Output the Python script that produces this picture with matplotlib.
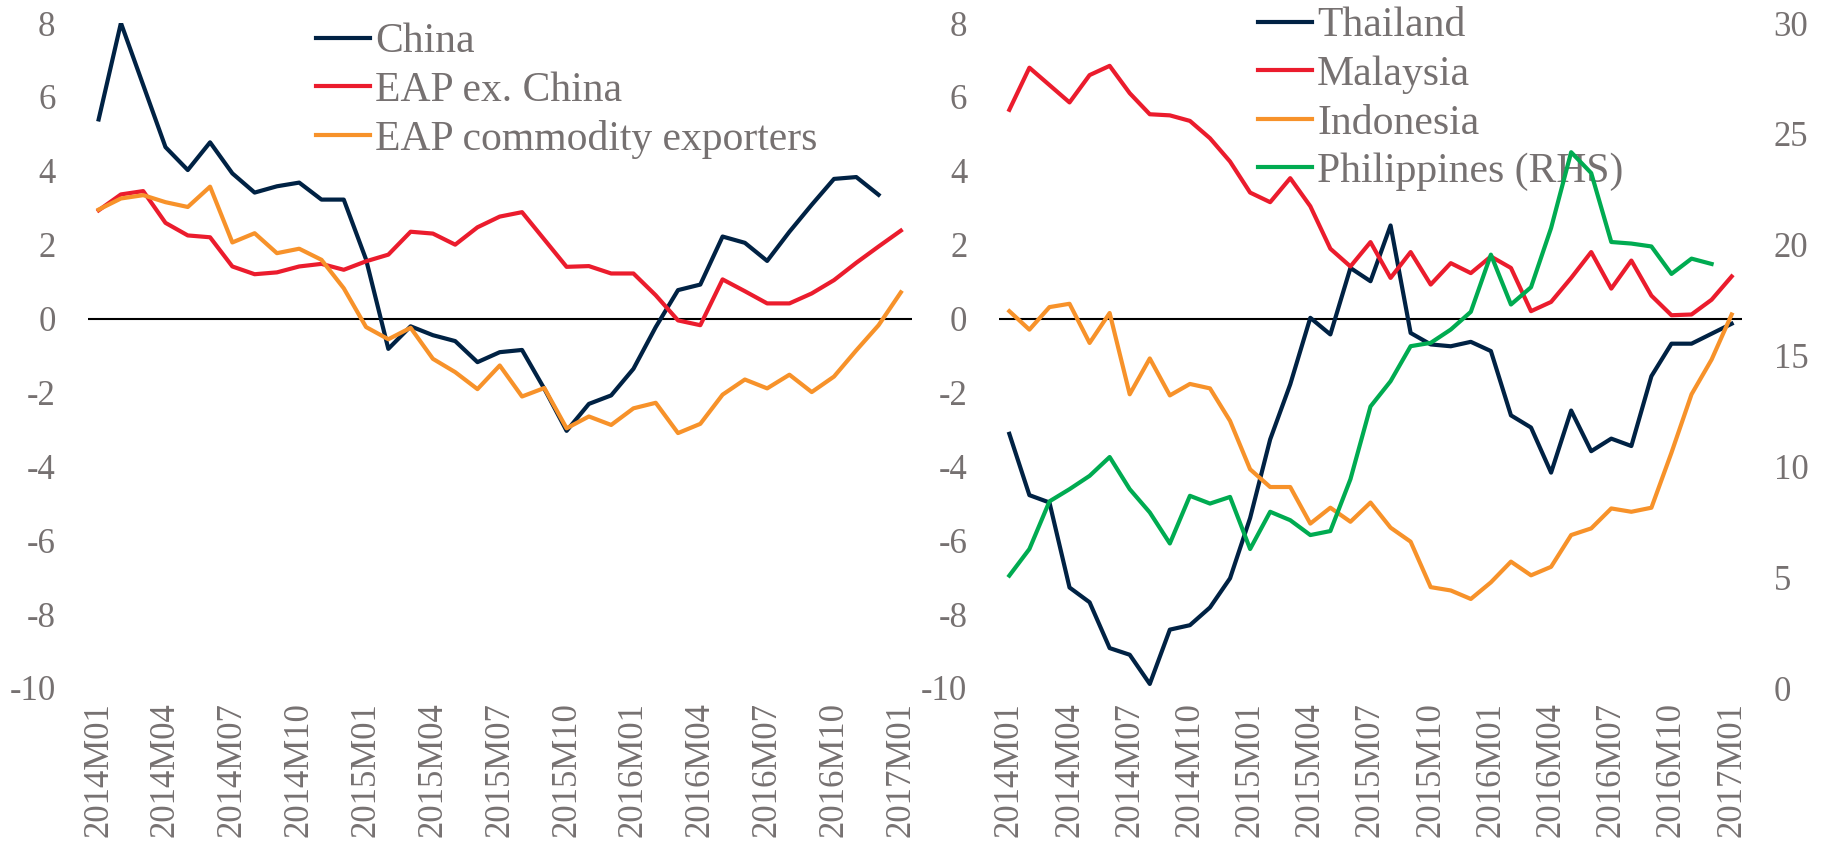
import matplotlib
matplotlib.use("Agg")
import matplotlib.pyplot as plt

plt.rcParams['font.family'] = ['Liberation Serif', 'DejaVu Serif']
plt.rcParams['axes.unicode_minus'] = False

# monthly, 2014M01 .. 2017M01
months = ['%dM%02d' % (y, m) for y in (2014, 2015, 2016, 2017) for m in range(1, 13)][:37]
tick_labels = months[::3]

china = [5.39, 8.0, 6.32, 4.64, 4.02, 4.77, 3.93, 3.41, 3.58, 3.68, 3.22, 3.22,
         1.6, -0.82, -0.21, -0.45, -0.61, -1.18, -0.91, -0.85, -1.9, -3.04, -2.31, -2.08,
         -1.36, -0.23, 0.77, 0.92, 2.22, 2.05, 1.56, 2.35, 3.08, 3.78, 3.83, 3.35]
eap_ex_china = [2.93, 3.36, 3.45, 2.59, 2.25, 2.2, 1.41, 1.2, 1.25, 1.41, 1.48, 1.32,
                1.55, 1.73, 2.35, 2.3, 2.0, 2.47, 2.76, 2.88, 2.14, 1.4, 1.42, 1.22,
                1.22, 0.63, -0.05, -0.18, 1.06, 0.74, 0.41, 0.41, 0.68, 1.04, 1.51, 1.95, 2.38]
commodity = [2.95, 3.25, 3.34, 3.15, 3.02, 3.57, 2.06, 2.31, 1.77, 1.89, 1.59, 0.82,
             -0.23, -0.56, -0.25, -1.09, -1.45, -1.91, -1.27, -2.11, -1.88, -2.97, -2.65, -2.88,
             -2.43, -2.28, -3.1, -2.85, -2.06, -1.65, -1.89, -1.52, -1.99, -1.57, -0.86, -0.18, 0.71]

thailand = [-3.12, -4.78, -4.98, -7.28, -7.68, -8.92, -9.1, -9.89, -8.42, -8.3, -7.82, -7.03,
            -5.4, -3.27, -1.78, 0.02, -0.43, 1.37, 1.01, 2.52, -0.39, -0.7, -0.75, -0.63,
            -0.88, -2.62, -2.95, -4.17, -2.49, -3.59, -3.25, -3.45, -1.56, -0.68, -0.68, -0.41, -0.14]
malaysia = [5.65, 6.79, 6.32, 5.85, 6.59, 6.84, 6.1, 5.53, 5.5, 5.35, 4.88, 4.25,
            3.41, 3.15, 3.8, 3.04, 1.89, 1.41, 2.07, 1.1, 1.8, 0.92, 1.5, 1.23,
            1.68, 1.37, 0.2, 0.45, 1.1, 1.8, 0.81, 1.57, 0.62, 0.09, 0.11, 0.51, 1.14]
indonesia = [0.2, -0.3, 0.31, 0.4, -0.66, 0.15, -2.05, -1.08, -2.08, -1.77, -1.89, -2.77,
             -4.08, -4.56, -4.56, -5.55, -5.12, -5.5, -4.98, -5.66, -6.04, -7.27, -7.36, -7.59,
             -7.14, -6.58, -6.95, -6.72, -5.86, -5.68, -5.14, -5.23, -5.12, -3.63, -2.05, -1.11, 0.11]
philippines = [5.07, 6.27, 8.42, 8.97, 9.57, 10.42, 8.97, 7.92, 6.52, 8.67, 8.32, 8.62,
               6.27, 7.95, 7.57, 6.9, 7.08, 9.42, 12.7, 13.84, 15.42, 15.57, 16.17, 16.97,
               19.55, 17.3, 18.08, 20.75, 24.17, 23.23, 20.12, 20.05, 19.92, 18.68, 19.37, 19.13]

NAVY = '#002244'
RED = '#EB1C2D'
ORANGE = '#F7922A'
GREEN = '#00AB51'
GREY = '#767171'
LW = 3.0
TICK_FS = 25
LEG_FS = 30

W, H = 1823, 846
fig = plt.figure(figsize=(W / 100, H / 100), dpi=100)


def px_axes(x0, x1, y_top, y_bot):
    return fig.add_axes([x0 / W, 1 - y_bot / H, (x1 - x0) / W, (y_bot - y_top) / H])


def style(ax):
    for s in ax.spines.values():
        s.set_visible(False)
    ax.set_xlim(-0.5, 36.5)
    ax.set_xticks(range(0, 37, 3))
    ax.set_xticklabels(tick_labels, rotation=90, va='top', ha='center')
    ax.tick_params(axis='both', length=0, labelsize=TICK_FS, labelcolor=GREY)
    ax.tick_params(axis='y', pad=23)
    ax.tick_params(axis='x', pad=10)
    ax.set_ylim(-10, 8)
    ax.set_yticks(range(-10, 9, 2))
    ax.axhline(0, color='black', lw=1.5, zorder=1)


leg_kw = dict(bbox_transform=fig.transFigure, loc='upper left', frameon=False,
              fontsize=LEG_FS, labelcolor=GREY, borderpad=0, borderaxespad=0,
              handlelength=1.3, handletextpad=0.12, labelspacing=0.24)

# left panel
ax1 = px_axes(87.5, 912, 23, 688)
style(ax1)
x = list(range(37))
ax1.plot(x[:len(china)], china, color=NAVY, lw=LW, label='China')
ax1.plot(x, eap_ex_china, color=RED, lw=LW, label='EAP ex. China')
ax1.plot(x, commodity, color=ORANGE, lw=LW, label='EAP commodity exporters')
ax1.legend(bbox_to_anchor=(316 / W, 1 - 23 / H), **leg_kw)

# right panel
ax2 = px_axes(999.3, 1741.7, 23, 688)
style(ax2)
ax2.plot(x, thailand, color=NAVY, lw=LW, label='Thailand')
ax2.plot(x, malaysia, color=RED, lw=LW, label='Malaysia')
ax2.plot(x, indonesia, color=ORANGE, lw=LW, label='Indonesia')
ax3 = ax2.twinx()
for s in ax3.spines.values():
    s.set_visible(False)
ax3.plot(x[:len(philippines)], philippines, color=GREEN, lw=LW, label='Philippines (RHS)')
ax3.set_ylim(0, 30)
ax3.set_yticks(range(0, 31, 5))
ax3.tick_params(axis='y', length=0, labelsize=TICK_FS, labelcolor=GREY, pad=23)

h2, l2 = ax2.get_legend_handles_labels()
h3, l3 = ax3.get_legend_handles_labels()
ax2.legend(h2 + h3, l2 + l3, bbox_to_anchor=(1258 / W, 1 - 7 / H), **leg_kw)

fig.savefig('out.png', dpi=100)
